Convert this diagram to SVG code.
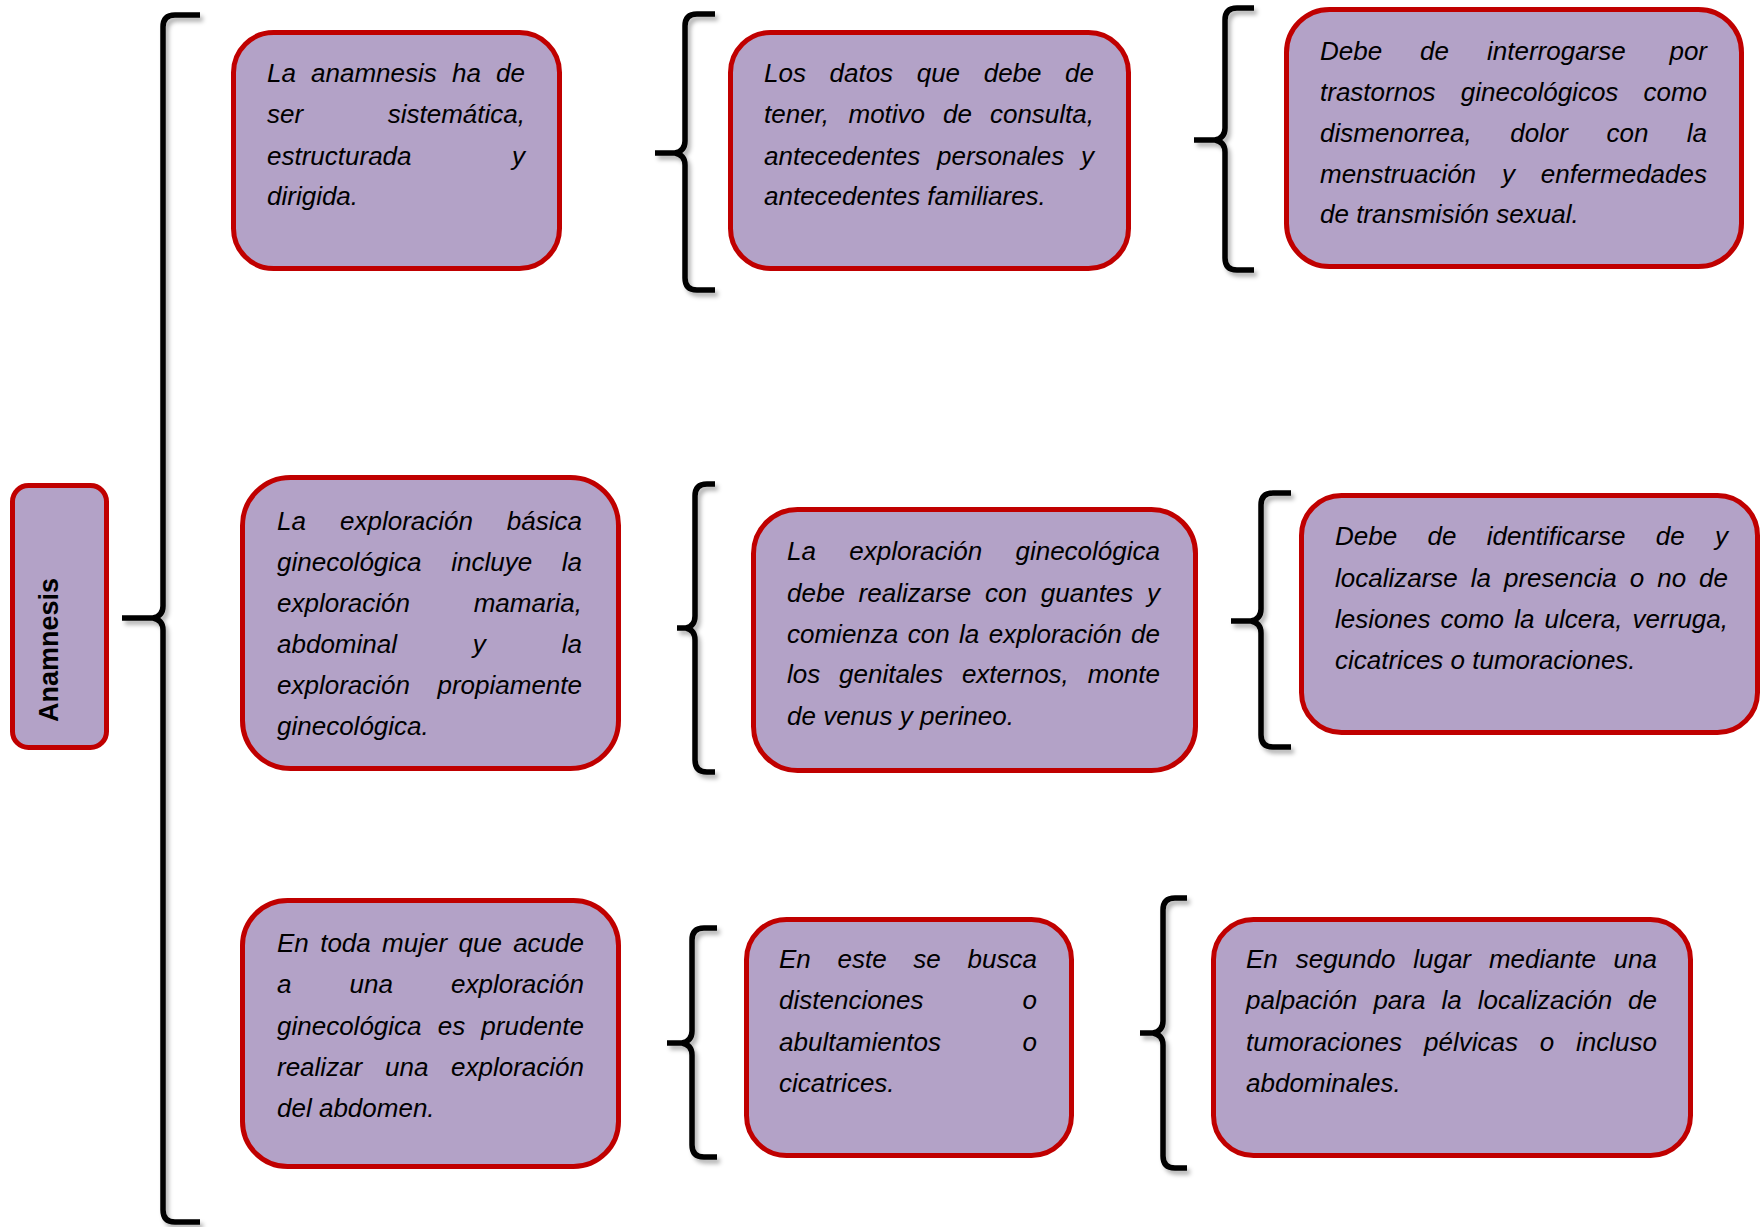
<svg xmlns="http://www.w3.org/2000/svg" width="1760" height="1227" viewBox="0 0 1760 1227">
<style>
.box{fill:#b3a2c7;stroke:#c00000;stroke-width:5}
.t{font-family:"Liberation Sans",Arial,sans-serif;font-style:italic;font-size:26px;fill:#000}
.e{text-anchor:end}
.br{fill:none;stroke:#000;stroke-width:5.5;stroke-linejoin:round}
.title{font-family:"Liberation Sans",Arial,sans-serif;font-weight:bold;font-size:27px;fill:#000;text-anchor:middle}
</style>
<defs>
<filter id="sh" x="-50%" y="-5%" width="200%" height="110%">
<feDropShadow dx="3" dy="4" stdDeviation="2" flood-color="#000" flood-opacity="0.3"/>
</filter>
</defs>
<rect width="1760" height="1227" fill="#fff"/>

<g id="connectors" filter="url(#sh)">
<path class="br" d="M200,15 L175,15 Q163,15 163,27 L163,606 Q163,616 153,618 L122,618 M153,618 Q163,620 163,630 L163,1210 Q163,1222 175,1222 L200,1222"/>
<path class="br" d="M715,14 L697,14 Q685,14 685,26 L685,141 Q685,151 675,153 L655,153 M675,153 Q685,155 685,165 L685,278 Q685,290 697,290 L715,290"/>
<path class="br" d="M1254,8 L1237,8 Q1225,8 1225,20 L1225,128 Q1225,138 1215,140 L1194,140 M1215,140 Q1225,142 1225,152 L1225,258 Q1225,270 1237,270 L1254,270"/>
<path class="br" d="M715,484 L707,484 Q695,484 695,496 L695,616 Q695,626 686,628 L677,628 M686,628 Q695,630 695,640 L695,760 Q695,772 707,772 L715,772"/>
<path class="br" d="M1291,493 L1273,493 Q1261,493 1261,505 L1261,609 Q1261,619 1251,621 L1231,621 M1251,621 Q1261,623 1261,633 L1261,735 Q1261,747 1273,747 L1291,747"/>
<path class="br" d="M717,928 L704,928 Q692,928 692,940 L692,1031 Q692,1041 682,1043 L667,1043 M682,1043 Q692,1045 692,1055 L692,1145 Q692,1157 704,1157 L717,1157"/>
<path class="br" d="M1187,898 L1175,898 Q1163,898 1163,910 L1163,1021 Q1163,1031 1153,1033 L1140,1033 M1153,1033 Q1163,1035 1163,1045 L1163,1156 Q1163,1168 1175,1168 L1187,1168"/>
</g>

<g id="anamnesis">
<rect class="box" x="12.5" y="485.5" width="94" height="262" rx="16"/>
<text class="title" transform="translate(58,650) rotate(-90)">Anamnesis</text>
</g>

<g id="n1">
<rect class="box" x="233.5" y="32.5" width="326" height="236" rx="40"/>
<text class="t" y="82"><tspan x="267">La</tspan><tspan x="311">anamnesis</tspan><tspan x="452">ha</tspan><tspan x="525" class="e">de</tspan></text>
<text class="t" y="123"><tspan x="267">ser</tspan><tspan x="525" class="e">sistemática,</tspan></text>
<text class="t" y="165"><tspan x="267">estructurada</tspan><tspan x="525" class="e">y</tspan></text>
<text class="t" y="205" x="267">dirigida.</text>
</g>

<g id="n2">
<rect class="box" x="730.5" y="32.5" width="398" height="236" rx="40"/>
<text class="t" y="82"><tspan x="764">Los</tspan><tspan x="829.5">datos</tspan><tspan x="916.7">que</tspan><tspan x="983.7">debe</tspan><tspan x="1094" class="e">de</tspan></text>
<text class="t" y="123"><tspan x="764">tener,</tspan><tspan x="848.5">motivo</tspan><tspan x="943.1">de</tspan><tspan x="1094" class="e">consulta,</tspan></text>
<text class="t" y="165"><tspan x="764">antecedentes</tspan><tspan x="937">personales</tspan><tspan x="1094" class="e">y</tspan></text>
<text class="t" y="205" x="764">antecedentes familiares.</text>
</g>

<g id="n3">
<rect class="box" x="1286.5" y="9.5" width="455" height="257" rx="43"/>
<text class="t" y="60"><tspan x="1320">Debe</tspan><tspan x="1420">de</tspan><tspan x="1487">interrogarse</tspan><tspan x="1707" class="e">por</tspan></text>
<text class="t" y="101"><tspan x="1320">trastornos</tspan><tspan x="1460.8">ginecológicos</tspan><tspan x="1707" class="e">como</tspan></text>
<text class="t" y="142"><tspan x="1320">dismenorrea,</tspan><tspan x="1510.2">dolor</tspan><tspan x="1606.5">con</tspan><tspan x="1707" class="e">la</tspan></text>
<text class="t" y="183"><tspan x="1320">menstruación</tspan><tspan x="1502">y</tspan><tspan x="1707" class="e">enfermedades</tspan></text>
<text class="t" y="223" x="1320">de transmisión sexual.</text>
</g>

<g id="n4">
<rect class="box" x="242.5" y="477.5" width="376" height="291" rx="48"/>
<text class="t" y="530"><tspan x="277">La</tspan><tspan x="340">exploración</tspan><tspan x="582" class="e">básica</tspan></text>
<text class="t" y="571"><tspan x="277">ginecológica</tspan><tspan x="451.2">incluye</tspan><tspan x="582" class="e">la</tspan></text>
<text class="t" y="612"><tspan x="277">exploración</tspan><tspan x="582" class="e">mamaria,</tspan></text>
<text class="t" y="653"><tspan x="277">abdominal</tspan><tspan x="472.8">y</tspan><tspan x="582" class="e">la</tspan></text>
<text class="t" y="694"><tspan x="277">exploración</tspan><tspan x="582" class="e">propiamente</tspan></text>
<text class="t" y="735" x="277">ginecológica.</text>
</g>

<g id="n5">
<rect class="box" x="753.5" y="509.5" width="442" height="261" rx="44"/>
<text class="t" y="560"><tspan x="787">La</tspan><tspan x="849.3">exploración</tspan><tspan x="1160" class="e">ginecológica</tspan></text>
<text class="t" y="602"><tspan x="787">debe</tspan><tspan x="858.6">realizarse</tspan><tspan x="985.1">con</tspan><tspan x="1040.8">guantes</tspan><tspan x="1160" class="e">y</tspan></text>
<text class="t" y="643"><tspan x="787">comienza</tspan><tspan x="907.8">con</tspan><tspan x="959.1">la</tspan><tspan x="988.8">exploración</tspan><tspan x="1160" class="e">de</tspan></text>
<text class="t" y="683"><tspan x="787">los</tspan><tspan x="839">genitales</tspan><tspan x="961.9">externos,</tspan><tspan x="1160" class="e">monte</tspan></text>
<text class="t" y="725" x="787">de venus y perineo.</text>
</g>

<g id="n6">
<rect class="box" x="1301.5" y="495.5" width="456" height="237" rx="40"/>
<text class="t" y="545"><tspan x="1335">Debe</tspan><tspan x="1427.5">de</tspan><tspan x="1486.7">identificarse</tspan><tspan x="1655.8">de</tspan><tspan x="1728" class="e">y</tspan></text>
<text class="t" y="587"><tspan x="1335">localizarse</tspan><tspan x="1470.8">la</tspan><tspan x="1504">presencia</tspan><tspan x="1629.7">o</tspan><tspan x="1657.2">no</tspan><tspan x="1728" class="e">de</tspan></text>
<text class="t" y="628"><tspan x="1335">lesiones</tspan><tspan x="1440.5">como</tspan><tspan x="1514.2">la</tspan><tspan x="1544.5">ulcera,</tspan><tspan x="1728" class="e">verruga,</tspan></text>
<text class="t" y="669" x="1335">cicatrices o tumoraciones.</text>
</g>

<g id="n7">
<rect class="box" x="242.5" y="900.5" width="376" height="266" rx="45"/>
<text class="t" y="952"><tspan x="277">En</tspan><tspan x="320.2">toda</tspan><tspan x="382.1">mujer</tspan><tspan x="458.5">que</tspan><tspan x="584" class="e">acude</tspan></text>
<text class="t" y="993"><tspan x="277">a</tspan><tspan x="349.6">una</tspan><tspan x="584" class="e">exploración</tspan></text>
<text class="t" y="1035"><tspan x="277">ginecológica</tspan><tspan x="437.7">es</tspan><tspan x="584" class="e">prudente</tspan></text>
<text class="t" y="1076"><tspan x="277">realizar</tspan><tspan x="385">una</tspan><tspan x="584" class="e">exploración</tspan></text>
<text class="t" y="1117" x="277">del abdomen.</text>
</g>

<g id="n8">
<rect class="box" x="746.5" y="919.5" width="325" height="236" rx="40"/>
<text class="t" y="968"><tspan x="779">En</tspan><tspan x="837.5">este</tspan><tspan x="913.3">se</tspan><tspan x="1037" class="e">busca</tspan></text>
<text class="t" y="1009"><tspan x="779">distenciones</tspan><tspan x="1037" class="e">o</tspan></text>
<text class="t" y="1051"><tspan x="779">abultamientos</tspan><tspan x="1037" class="e">o</tspan></text>
<text class="t" y="1092" x="779">cicatrices.</text>
</g>

<g id="n9">
<rect class="box" x="1213.5" y="919.5" width="477" height="236" rx="40"/>
<text class="t" y="968"><tspan x="1246">En</tspan><tspan x="1295.7">segundo</tspan><tspan x="1413.2">lugar</tspan><tspan x="1488.9">mediante</tspan><tspan x="1657" class="e">una</tspan></text>
<text class="t" y="1009"><tspan x="1246">palpación</tspan><tspan x="1373.4">para</tspan><tspan x="1441.4">la</tspan><tspan x="1477.7">localización</tspan><tspan x="1657" class="e">de</tspan></text>
<text class="t" y="1051"><tspan x="1246">tumoraciones</tspan><tspan x="1424">pélvicas</tspan><tspan x="1539.8">o</tspan><tspan x="1657" class="e">incluso</tspan></text>
<text class="t" y="1092" x="1246">abdominales.</text>
</g>
</svg>
